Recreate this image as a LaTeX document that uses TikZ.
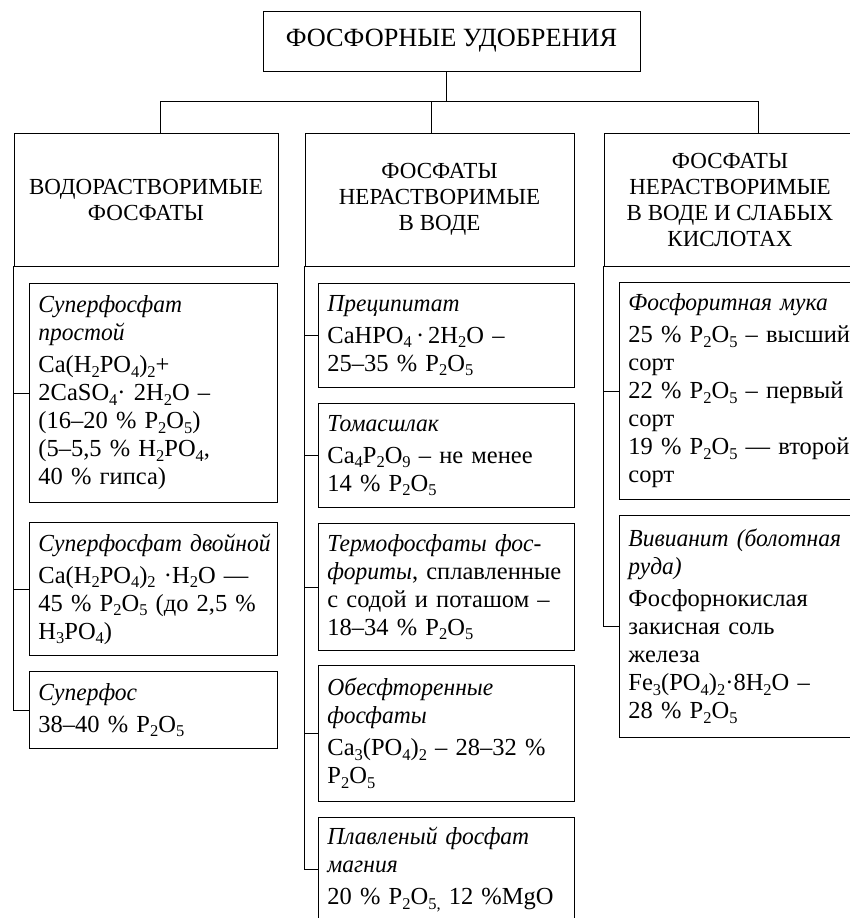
\documentclass[tikz,border=0pt]{standalone}
\usepackage{fontspec}
\setmainfont{Liberation Serif}[ItalicFeatures={FakeStretch=0.96}]
\newcommand\sbx[1]{\raisebox{-4.5pt}{\fontsize{16.5}{16.5}\selectfont #1}}
\newcommand\tline[1]{\mbox{#1}}
\begin{document}
\begin{tikzpicture}[x=1pt,y=1pt,line width=0.9pt,
  titlebox/.style={draw, minimum width=377pt, minimum height=60pt, inner sep=0pt, font=\fontsize{26.3}{28}\selectfont},
  catbox/.style={draw, minimum height=133pt, inner sep=0pt, align=center, font=\fontsize{23}{26}\selectfont},
  subbox/.style={draw, anchor=north west, align=left, inner xsep=9pt, inner ysep=6pt, font=\fontsize{24.5}{28}\selectfont},
  lw/.style={subbox, text width=230pt},
  mw/.style={subbox, text width=238pt},
  rw/.style={subbox, text width=245pt}]
\useasboundingbox (0,0) rectangle (850,-918);
\clip (0,0) rectangle (850,-918);

\node[titlebox] (top) at (451.5,-41) {ФОСФОРНЫЕ УДОБРЕНИЯ};
\node[catbox, minimum width=264pt] (A) at (146,-199.5) {ВОДОРАСТВОРИМЫЕ\\ФОСФАТЫ};
\node[catbox, minimum width=269pt] (B) at (439.5,-199.5) {ФОСФАТЫ\\НЕРАСТВОРИМЫЕ\\В ВОДЕ};
\node[catbox, minimum width=252pt] (C) at (730,-199.5) {ФОСФАТЫ\\НЕРАСТВОРИМЫЕ\\В ВОДЕ И СЛАБЫХ\\КИСЛОТАХ};

\coordinate (j) at (446,-101);
\coordinate (dA) at (160,-101);
\coordinate (dB) at (431,-101);
\coordinate (dC) at (758,-101);
\draw (top.south -| j) -- (j);
\draw (A.north -| dA) -- (dA) -- (dC) -- (C.north -| dC);
\draw (dB) -- (B.north -| dB);

% left column
\node[lw, minimum height=219pt] (L1) at (29,-283) {\tline{\textit{Суперфосфат}}\\\tline{\textit{простой}}\\[4pt]\tline{Ca(H\sbx{2}PO\sbx{4})\sbx{2}+}\\\tline{2CaSO\sbx{4}· 2H\sbx{2}O –}\\\tline{(16–20 \% P\sbx{2}O\sbx{5})}\\\tline{(5–5,5 \% H\sbx{2}PO\sbx{4},}\\\tline{40 \% гипса)}};
\node[lw, minimum height=133pt] (L2) at (29,-522) {\tline{\textit{Суперфосфат двойной}}\\[4pt]\tline{Ca(H\sbx{2}PO\sbx{4})\sbx{2} ·H\sbx{2}O —}\\\tline{45 \%  P\sbx{2}O\sbx{5} (до  2,5 \%}\\\tline{H\sbx{3}PO\sbx{4})}};
\node[lw, minimum height=77pt] (L3) at (29,-671) {\tline{\textit{Суперфос}}\\[4pt]\tline{38–40 \% P\sbx{2}O\sbx{5}}};

% middle column
\node[mw, minimum height=104pt] (M1) at (318,-283) {\tline{\textit{Преципитат}}\\[4pt]\tline{CaHPO\sbx{4}\,·\,2H\sbx{2}O –}\\\tline{25–35 \% P\sbx{2}O\sbx{5}}};
\node[mw, minimum height=104pt] (M2) at (318,-403) {\tline{\textit{Томасшлак}}\\[4pt]\tline{Ca\sbx{4}P\sbx{2}O\sbx{9} – не менее}\\\tline{14 \% P\sbx{2}O\sbx{5}}};
\node[mw, minimum height=127pt] (M3) at (318,-523) {\tline{\textit{Термофосфаты фос-}}\\\tline{\textit{фориты}, сплавленные}\\\tline{с содой и поташом –}\\\tline{18–34 \% P\sbx{2}O\sbx{5}}};
\node[mw, minimum height=136pt] (M4) at (318,-665) {\tline{\textit{Обесфторенные}}\\\tline{\textit{фосфаты}}\\[4pt]\tline{Ca\sbx{3}(PO\sbx{4})\sbx{2} – 28–32 \%}\\\tline{P\sbx{2}O\sbx{5}}};
\node[mw, minimum height=104pt] (M5) at (318,-817) {\tline{\textit{Плавленый фосфат}}\\\tline{\textit{магния}}\\[4pt]\tline{20 \% P\sbx{2}O\sbx{5,} 12 \%MgO}};

% right column
\node[rw, minimum height=217pt] (R1) at (619,-282) {\tline{\textit{Фосфоритная мука}}\\[4pt]\tline{25 \% P\sbx{2}O\sbx{5} – высший}\\\tline{сорт}\\\tline{22 \% P\sbx{2}O\sbx{5} – первый}\\\tline{сорт}\\\tline{19 \% P\sbx{2}O\sbx{5} — второй}\\\tline{сорт}};
\node[rw, minimum height=222pt] (R2) at (619,-515) {\tline{\textit{Вивианит (болотная}}\\\tline{\textit{руда)}}\\[4pt]\tline{Фосфорнокислая}\\\tline{закисная соль}\\\tline{железа}\\\tline{Fe\sbx{3}(PO\sbx{4})\sbx{2}·8H\sbx{2}O –}\\\tline{28 \% P\sbx{2}O\sbx{5}}};

% spines and branches
\draw (A.south west) |- (L3.west);
\draw (L1.west) -- (L1.west -| A.south west);
\draw (L2.west) -- (L2.west -| A.south west);
\draw (B.south west) |- (M5.west);
\foreach \n in {M1,M2,M3,M4}{\draw (\n.west) -- (\n.west -| B.south west);}
\draw (C.south west) |- (R2.west);
\draw (R1.west) -- (R1.west -| C.south west);
\end{tikzpicture}
\end{document}
